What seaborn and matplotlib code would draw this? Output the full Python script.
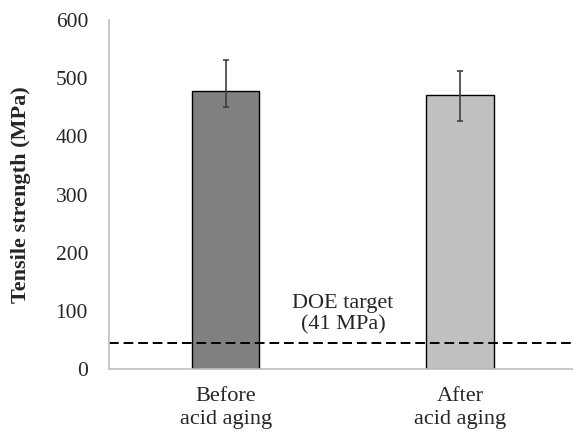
import matplotlib
matplotlib.use("Agg")
import matplotlib.pyplot as plt
import seaborn as sns
import pandas as pd
import numpy as np

# data
conditions = ["Before\nacid aging", "After\nacid aging"]
strength = [478, 471]
err_low = [28, 45]
err_high = [54, 42]
bar_colors = ["#808080", "#c0c0c0"]
doe_target = 45

sns.set_theme(style="white")
plt.rcParams['font.family'] = ['Liberation Serif', 'DejaVu Serif']

df = pd.DataFrame({'Condition': conditions, 'Strength': strength})

fig = plt.figure(figsize=(5.73, 4.33), dpi=100)
ax = fig.add_axes([0.190, 0.147, 0.817, 0.807])

sns.barplot(data=df, x='Condition', y='Strength', hue='Condition',
            palette=bar_colors, width=0.287, edgecolor='black', linewidth=1,
            legend=False, ax=ax, errorbar=None)

# asymmetric error bars
x = np.arange(len(conditions))
ax.errorbar(x, strength, yerr=[err_low, err_high], fmt='none',
            ecolor='#404040', elinewidth=1.2, capsize=2.5, capthick=1.2)

# DOE target line
ax.axhline(doe_target, color='black', linestyle=(0, (5, 2.5)), linewidth=1.4)
ax.text(0.5, 60, "DOE target\n(41 MPa)", ha='center', va='bottom',
        fontsize=16, linespacing=1.15)

ax.set_xlim(-0.5, 1.5)
ax.set_ylim(0, 600)
ax.set_yticks(range(0, 601, 100))
ax.set_xlabel("")
ax.set_ylabel("Tensile strength (MPa)", fontsize=16, fontweight='bold', labelpad=18)
ax.tick_params(axis='y', direction='in', length=5, color='#bfbfbf', labelsize=15.5, pad=15)
ax.tick_params(axis='x', length=0, labelsize=16, pad=13)
for lab in ax.get_xticklabels():
    lab.set_linespacing(1.25)

sns.despine(ax=ax)
for side in ['left', 'bottom']:
    ax.spines[side].set_color('#bfbfbf')
    ax.spines[side].set_linewidth(1.2)

fig.savefig('out.png', dpi=100)
